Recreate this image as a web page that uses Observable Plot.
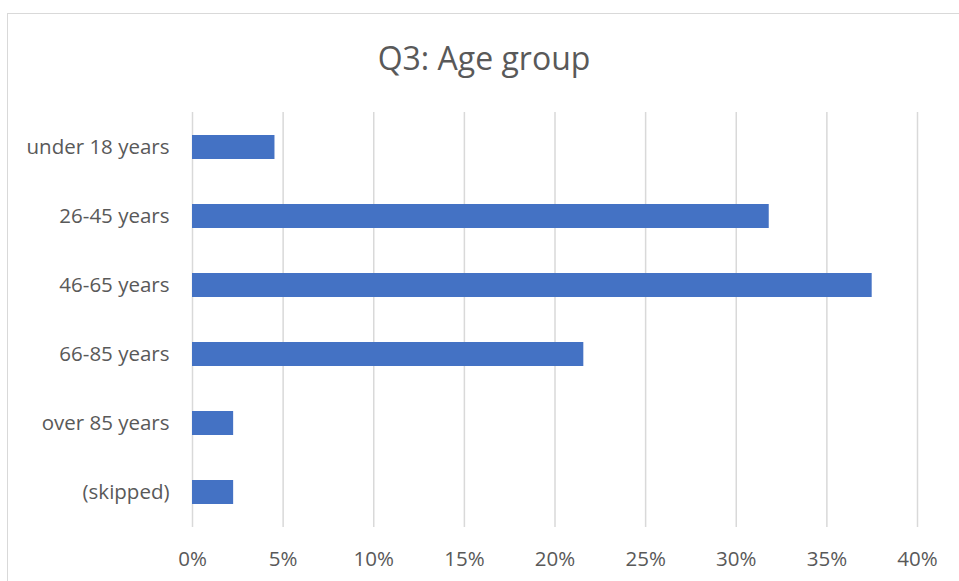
<!DOCTYPE html>
<html>
<head>
<meta charset="utf-8">
<script src="https://cdn.jsdelivr.net/npm/d3@7"></script>
<script src="https://cdn.jsdelivr.net/npm/@observablehq/plot@0.6"></script>
<style>
  html, body { margin: 0; padding: 0; background: #fff; }
  #wrap { position: relative; width: 959px; height: 581px; overflow: hidden; font-family: "Open Sans", sans-serif; }
  #border { position: absolute; left: 7px; top: 13px; width: 980px; height: 600px; border: 1px solid #d9d9d9; box-sizing: border-box; }
  #title { position: absolute; left: 0; width: 968px; top: 36px; text-align: center; font-size: 32px; color: #595959; line-height: 44px; }
  #chart { position: absolute; left: 0; top: 0; }
</style>
</head>
<body>
<div id="wrap">
  <div id="border"></div>
  <div id="title">Q3: Age group</div>
  <div id="chart"></div>
</div>
<script>
const categories = ["under 18 years", "26-45 years", "46-65 years", "66-85 years", "over 85 years", "(skipped)"];
const shares = [0.0455, 0.3182, 0.375, 0.2159, 0.0227, 0.0227];
const xTicks = [0, 0.05, 0.10, 0.15, 0.20, 0.25, 0.30, 0.35, 0.40];

const data = categories.map((c, i) => ({category: c, value: shares[i]}));

const chart = Plot.plot({
  width: 959,
  height: 581,
  marginLeft: 192,
  marginRight: 42,
  marginTop: 112,
  marginBottom: 54,
  style: {background: "transparent", fontFamily: "Open Sans, sans-serif", fontSize: "20.5px", color: "#595959"},
  x: {domain: [0, 0.4], ticks: xTicks, tickFormat: d => Math.round(d * 100) + "%", label: null, tickSize: 0, tickPadding: 22},
  y: {domain: categories, label: null, paddingInner: 0.646, paddingOuter: 0.323, tickSize: 0, tickPadding: 23},
  marks: [
    Plot.ruleX(xTicks, {stroke: "#d9d9d9", strokeWidth: 1.5, strokeOpacity: 1}),
    Plot.barX(data, {x: "value", y: "category", fill: "#4472c4"}),
    Plot.axisX({ticks: xTicks, tickFormat: d => Math.round(d * 100) + "%", tickSize: 0, tickPadding: 24, fill: "#595959", fontSize: 20.5, label: null}),
    Plot.axisY({tickSize: 0, tickPadding: 23, fill: "#595959", fontSize: 20.5, label: null})
  ]
});
document.getElementById("chart").appendChild(chart);
</script>
</body>
</html>
